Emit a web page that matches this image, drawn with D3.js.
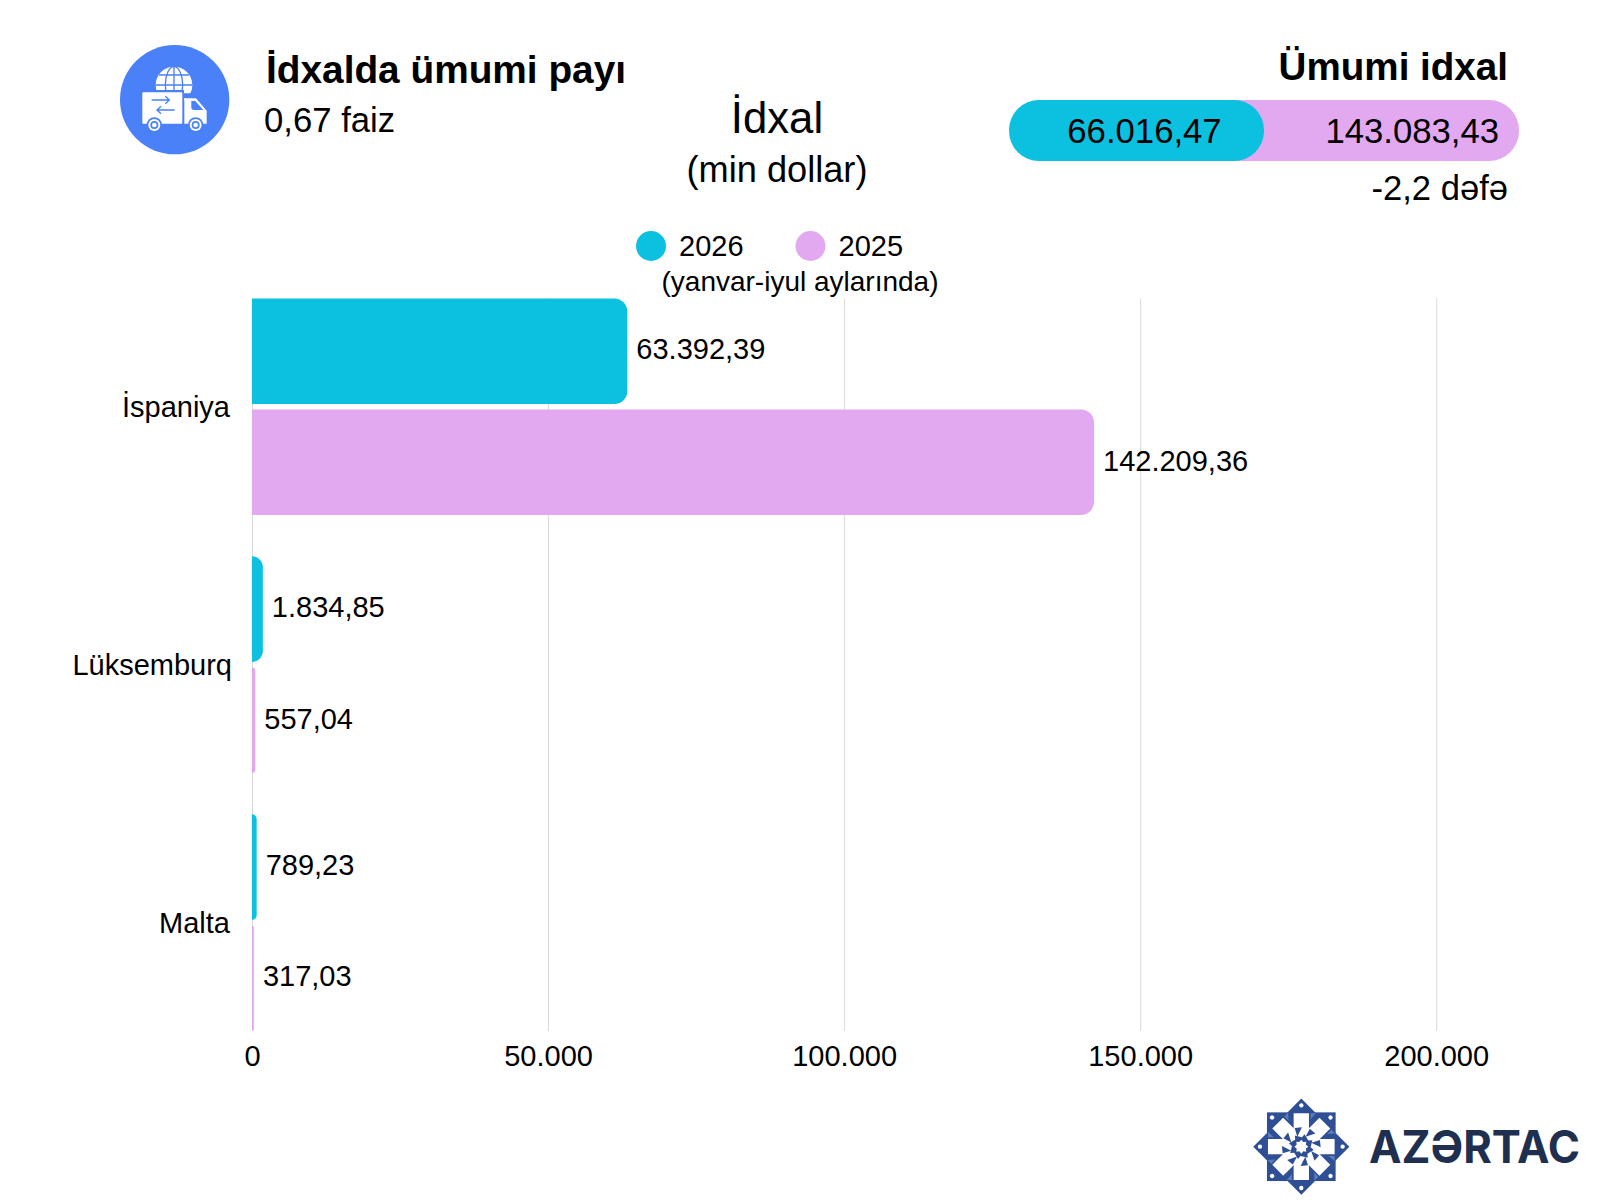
<!DOCTYPE html>
<html>
<head>
<meta charset="utf-8">
<script src="https://cdn.jsdelivr.net/npm/d3@7"></script>
<style>
  html, body { margin: 0; padding: 0; background: #fff; }
  svg { display: block; }
  text { font-family: "Liberation Sans", Arial, sans-serif; fill: #000; }
</style>
</head>
<body>
<script>
// chart data
const categories = ["İspaniya", "Lüksemburq", "Malta"];
const years = ["2026", "2025"];
const values2026 = [63392.39, 1834.85, 789.23];
const values2025 = [142209.36, 557.04, 317.03];
const tickValues = [0, 50000, 100000, 150000, 200000];
const totals = [66016.47, 143083.43];
const colors = ["#0cc0df", "#e2a9f1"];

const width = 1600, height = 1200;
const margin = { top: 298.4, left: 252, bottom: 1031, right: 1436.2 };

const locale = d3.formatLocale({ decimal: ",", thousands: ".", grouping: [3], currency: ["", ""] });
const fmtTick = locale.format(",.0f");
const fmtVal = locale.format(",.2f");

const svg = d3.select("body").append("svg")
  .attr("width", width)
  .attr("height", height);

// scales
const xScale = d3.scaleLinear().domain([0, 200000]).range([margin.left, margin.right]);
const yScale = d3.scaleBand().domain(categories).range([margin.top, margin.bottom]).paddingInner(0.16);
const ySub = d3.scaleBand().domain(years).range([0, yScale.bandwidth()]).paddingInner(0.05);

// x axis + grid
const xAxis = svg.append("g")
  .attr("transform", `translate(0,${margin.bottom})`)
  .call(d3.axisBottom(xScale).tickValues(tickValues).tickFormat(fmtTick)
    .tickSize(-(margin.bottom - margin.top)).tickPadding(14));
xAxis.select(".domain").remove();
xAxis.selectAll("line").attr("stroke", "#d9d9d9").attr("stroke-width", 1);
xAxis.selectAll("text").attr("font-size", 29).style("font-family", "Liberation Sans");

// y axis
const yAxis = svg.append("g")
  .attr("transform", `translate(${margin.left},0)`)
  .call(d3.axisLeft(yScale).tickSize(0).tickPadding(22));
yAxis.select(".domain").remove();
yAxis.selectAll("text")
  .attr("font-size", 29)
  .attr("dx", d => d === "Lüksemburq" ? 2 : 0)
  .attr("dy", "0.36em")
  .style("font-family", "Liberation Sans");

// bar with rounded right end
function barPath(x0, x1, y0, h, r) {
  r = Math.min(r, x1 - x0);
  return `M${x0},${y0}H${x1 - r}A${r},${r} 0 0 1 ${x1},${y0 + r}V${y0 + h - r}A${r},${r} 0 0 1 ${x1 - r},${y0 + h}H${x0}Z`;
}

const rows = [];
categories.forEach((c, i) => {
  rows.push({ cat: c, year: "2026", value: values2026[i], color: colors[0] });
  rows.push({ cat: c, year: "2025", value: values2025[i], color: colors[1] });
});

svg.append("g").selectAll("path")
  .data(rows)
  .enter()
  .append("path")
  .attr("d", d => barPath(xScale(0), xScale(d.value), yScale(d.cat) + ySub(d.year), ySub.bandwidth(), 13))
  .attr("fill", d => d.color);

svg.append("g").selectAll("text")
  .data(rows)
  .enter()
  .append("text")
  .attr("x", d => xScale(d.value) + 9)
  .attr("y", d => yScale(d.cat) + ySub(d.year) + ySub.bandwidth() / 2 - 1)
  .attr("dy", "0.32em")
  .attr("font-size", 29)
  .text(d => fmtVal(d.value));

// title
svg.append("text").attr("x", 777).attr("y", 133).attr("text-anchor", "middle").attr("font-size", 43.7).text("İdxal");
svg.append("text").attr("x", 777).attr("y", 182).attr("text-anchor", "middle").attr("font-size", 36.2).text("(min dollar)");

// legend
const legendX = [651, 810.5];
years.forEach((y, i) => {
  svg.append("circle").attr("cx", legendX[i]).attr("cy", 246).attr("r", 15).attr("fill", colors[i]);
  svg.append("text").attr("x", legendX[i] + 28).attr("y", 256).attr("font-size", 29).text(y);
});
svg.append("text").attr("x", 800).attr("y", 291).attr("text-anchor", "middle").attr("font-size", 28).text("(yanvar-iyul aylarında)");

// left header
svg.append("text").attr("x", 266).attr("y", 83).attr("font-size", 38.8).attr("font-weight", "bold").text("İdxalda ümumi payı");
svg.append("text").attr("x", 264).attr("y", 132).attr("font-size", 34.7).text("0,67 faiz");

// total pill
svg.append("text").attr("x", 1508).attr("y", 80).attr("text-anchor", "end").attr("font-size", 38.6).attr("font-weight", "bold").text("Ümumi idxal");
svg.append("rect").attr("x", 1150).attr("y", 100).attr("width", 369).attr("height", 61).attr("rx", 30).attr("fill", colors[1]);
svg.append("rect").attr("x", 1009).attr("y", 100).attr("width", 255).attr("height", 61).attr("rx", 30).attr("fill", colors[0]);
svg.append("text").attr("x", 1144.5).attr("y", 142.5).attr("text-anchor", "middle").attr("font-size", 34.7).text(fmtVal(totals[0]));
svg.append("text").attr("x", 1499).attr("y", 142.5).attr("text-anchor", "end").attr("font-size", 34.7).text(fmtVal(totals[1]));
svg.append("text").attr("x", 1508).attr("y", 200).attr("text-anchor", "end").attr("font-size", 34.6).text("-2,2 dəfə");

// truck icon, drawn in zoomed crop units
const blue = "#4a80f8";
const icon = svg.append("g").attr("transform", "translate(100,30) scale(0.3333)");
icon.append("circle").attr("cx", 224).attr("cy", 209).attr("r", 164).attr("fill", blue);
const globe = icon.append("g").attr("fill", "none");
globe.append("circle").attr("cx", 222).attr("cy", 165).attr("r", 55).attr("fill", "#fff");
globe.append("ellipse").attr("cx", 222).attr("cy", 165).attr("rx", 26).attr("ry", 55).attr("stroke", blue).attr("stroke-width", 4);
globe.append("path").attr("d", "M222,110V220M167,165H277M177,135H267M177,195H267").attr("stroke", blue).attr("stroke-width", 4);
icon.append("rect").attr("x", 120).attr("y", 180).attr("width", 132).attr("height", 108).attr("fill", blue);
icon.append("path").attr("d", "M252,190H280L285,205H252Z").attr("fill", blue);
icon.append("rect").attr("x", 127).attr("y", 187).attr("width", 120).attr("height", 94).attr("rx", 3).attr("fill", "#fff");
icon.append("path").attr("d", "M253,205H288L320,242V281H253Z").attr("fill", "#fff");
icon.append("path").attr("d", "M274,213H286L310,240H282Q274,240 274,232Z").attr("fill", blue);
icon.append("path").attr("d", "M155,210H208M196,199L208,210L196,221M224,240H171M183,229L171,240L183,251")
  .attr("fill", "none").attr("stroke", blue).attr("stroke-width", 4);
[163, 287].forEach(cx => {
  icon.append("circle").attr("cx", cx).attr("cy", 285).attr("r", 23).attr("fill", blue);
  icon.append("circle").attr("cx", cx).attr("cy", 285).attr("r", 18).attr("fill", "#fff");
  icon.append("circle").attr("cx", cx).attr("cy", 285).attr("r", 12).attr("fill", blue);
  icon.append("circle").attr("cx", cx).attr("cy", 285).attr("r", 7).attr("fill", "#fff");
});

// logo
const logo = svg.append("g").attr("transform", "translate(1301.3,1146.7) scale(0.3333)");
const navy = "#2f4f95";
logo.append("rect").attr("x", -103).attr("y", -103).attr("width", 206).attr("height", 206).attr("fill", navy);
logo.append("rect").attr("x", -102).attr("y", -102).attr("width", 204).attr("height", 204).attr("fill", navy).attr("transform", "rotate(45)");
d3.range(8).forEach(i => {
  const arm = logo.append("g").attr("transform", `rotate(${i * 45})`);
  arm.append("path").attr("d", "M-23,-100H23V-52L2,-28L-23,-34Z").attr("fill", "#fff");
  arm.append("circle").attr("cy", -124).attr("r", 6.5).attr("fill", "#fff");
  arm.append("path").attr("d", "M-20,-56L2,-58L-12,-30Z").attr("fill", navy);
  arm.append("path").attr("d", "M28,-100H44L28,-82Z").attr("fill", "#5b7dbd");
});
logo.append("circle").attr("r", 24).attr("fill", navy);
logo.append("path").attr("d", d3.range(16).map(i => {
  const a = i * Math.PI / 8, r = i % 2 ? 15 : 21;
  return (i ? "L" : "M") + r * Math.sin(a) + "," + (-r * Math.cos(a));
}).join("") + "Z").attr("fill", "#fff");
svg.append("text").attr("x", 1369).attr("y", 1163).attr("font-size", 45).attr("font-weight", 700)
  .attr("textLength", 211).attr("lengthAdjust", "spacingAndGlyphs")
  .style("font-family", "Inter").style("fill", "#1f2f4f").text("AZƏRTAC");
</script>
</body>
</html>
